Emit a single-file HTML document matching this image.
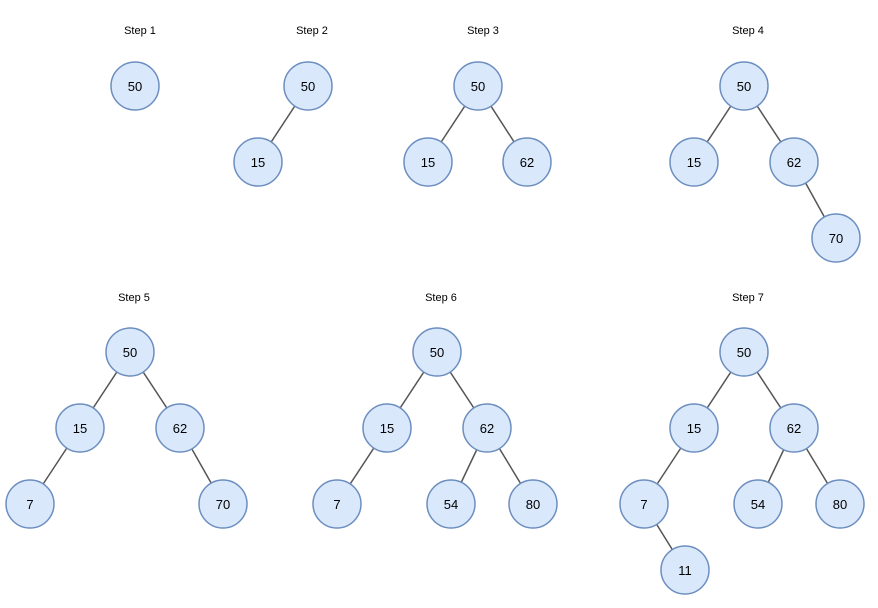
<!DOCTYPE html>
<html><head><meta charset="utf-8"><style>
html,body{margin:0;padding:0;background:#fff;}
svg{display:block;}
text{font-family:"Liberation Sans",Arial,sans-serif;fill:#000;}
</style></head><body>
<svg width="878" height="608" viewBox="0 0 878 608" xmlns="http://www.w3.org/2000/svg">
<g font-size="11" text-anchor="middle">
<text x="140" y="34">Step 1</text>
<text x="312" y="34">Step 2</text>
<text x="483" y="34">Step 3</text>
<text x="748" y="34">Step 4</text>
<text x="134" y="301">Step 5</text>
<text x="441" y="301">Step 6</text>
<text x="748" y="301">Step 7</text>
</g>
<g stroke="#555" stroke-width="1.5">
<line x1="308" y1="86" x2="258" y2="162"/>
<line x1="478" y1="86" x2="428" y2="162"/><line x1="478" y1="86" x2="527" y2="162"/>
<line x1="744" y1="86" x2="694" y2="162"/><line x1="744" y1="86" x2="794" y2="162"/><line x1="794" y1="162" x2="836" y2="238"/>
<line x1="130" y1="352" x2="80" y2="428"/><line x1="130" y1="352" x2="180" y2="428"/><line x1="80" y1="428" x2="30" y2="504"/><line x1="180" y1="428" x2="223" y2="504"/>
<line x1="437" y1="352" x2="387" y2="428"/><line x1="437" y1="352" x2="487" y2="428"/><line x1="387" y1="428" x2="337" y2="504"/><line x1="487" y1="428" x2="451" y2="504"/><line x1="487" y1="428" x2="533" y2="504"/>
<line x1="744" y1="352" x2="694" y2="428"/><line x1="744" y1="352" x2="794" y2="428"/><line x1="694" y1="428" x2="644" y2="504"/><line x1="794" y1="428" x2="758" y2="504"/><line x1="794" y1="428" x2="840" y2="504"/><line x1="644" y1="504" x2="685" y2="570"/>
</g>
<g fill="#dae8fc" stroke="#6c8ebf" stroke-width="1.5">
<circle cx="135" cy="86" r="24"/>
<circle cx="308" cy="86" r="24"/><circle cx="258" cy="162" r="24"/>
<circle cx="478" cy="86" r="24"/><circle cx="428" cy="162" r="24"/><circle cx="527" cy="162" r="24"/>
<circle cx="744" cy="86" r="24"/><circle cx="694" cy="162" r="24"/><circle cx="794" cy="162" r="24"/><circle cx="836" cy="238" r="24"/>
<circle cx="130" cy="352" r="24"/><circle cx="80" cy="428" r="24"/><circle cx="180" cy="428" r="24"/><circle cx="30" cy="504" r="24"/><circle cx="223" cy="504" r="24"/>
<circle cx="437" cy="352" r="24"/><circle cx="387" cy="428" r="24"/><circle cx="487" cy="428" r="24"/><circle cx="337" cy="504" r="24"/><circle cx="451" cy="504" r="24"/><circle cx="533" cy="504" r="24"/>
<circle cx="744" cy="352" r="24"/><circle cx="694" cy="428" r="24"/><circle cx="794" cy="428" r="24"/><circle cx="644" cy="504" r="24"/><circle cx="758" cy="504" r="24"/><circle cx="840" cy="504" r="24"/><circle cx="685" cy="570" r="24"/>
</g>
<g font-size="13" text-anchor="middle">
<text x="135" y="91">50</text>
<text x="308" y="91">50</text><text x="258" y="167">15</text>
<text x="478" y="91">50</text><text x="428" y="167">15</text><text x="527" y="167">62</text>
<text x="744" y="91">50</text><text x="694" y="167">15</text><text x="794" y="167">62</text><text x="836" y="243">70</text>
<text x="130" y="357">50</text><text x="80" y="433">15</text><text x="180" y="433">62</text><text x="30" y="509">7</text><text x="223" y="509">70</text>
<text x="437" y="357">50</text><text x="387" y="433">15</text><text x="487" y="433">62</text><text x="337" y="509">7</text><text x="451" y="509">54</text><text x="533" y="509">80</text>
<text x="744" y="357">50</text><text x="694" y="433">15</text><text x="794" y="433">62</text><text x="644" y="509">7</text><text x="758" y="509">54</text><text x="840" y="509">80</text><text x="685" y="575">11</text>
</g>
</svg>
</body></html>
